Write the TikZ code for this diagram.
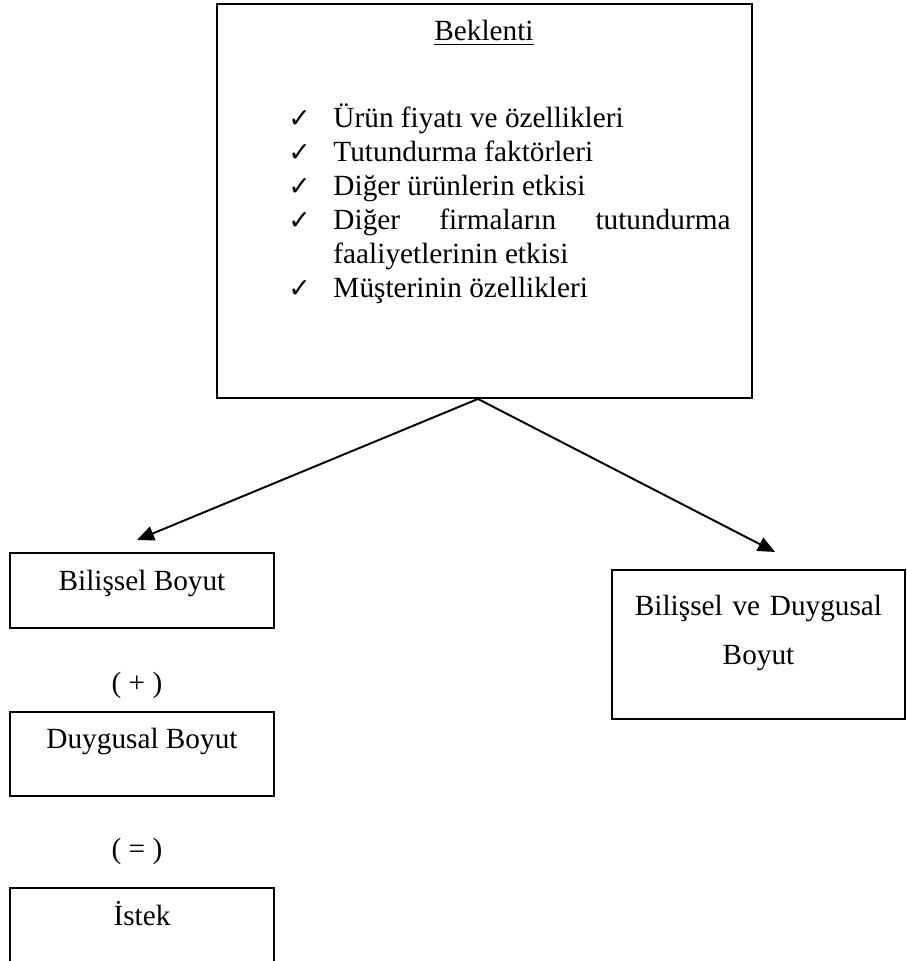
\documentclass[tikz,border=0pt]{standalone}
\usepackage{fontspec}
\setmainfont{Liberation Serif}
\newfontfamily\isaretfont{DejaVu Sans}
\usetikzlibrary{arrows.meta,positioning,calc}
\newlength\maddegir
\setlength\maddegir{18.45pt}
\newcommand{\onay}{{\isaretfont\fontsize{11}{12}\selectfont ✓}}
\newcommand{\madde}[1]{\noindent\hangindent=\maddegir\hangafter=1\makebox[\maddegir][l]{\onay}#1\par}
\hbadness=10000
\tikzset{
  kutu/.style={draw,line width=0.8pt,inner sep=0pt,anchor=north,align=center},
  ok/.style={-{Triangle[length=7pt,width=6pt]},line width=0.8pt},
  isaret/.style={anchor=base,inner sep=0pt},
}

\begin{document}
\begin{tikzpicture}[x=0.41pt,y=-0.41pt,font=\fontsize{12}{13.86}\selectfont]
  \useasboundingbox (0,0) rectangle (906,961);
  \clip (0,0) rectangle (906,961);
  \node[kutu,minimum width=219.35pt,minimum height=161.54pt] (beklenti) at (484.5,3) {};
  \node[isaret] (baslik) at (484,41) {\underline{Beklenti}};
  \node[anchor=base west,inner sep=0pt,text width=181.22pt,align=justify] (liste) at (288,128) {%
    \madde{Ürün fiyatı ve özellikleri}
    \madde{Tutundurma faktörleri}
    \madde{Diğer ürünlerin etkisi}
    \madde{Diğer firmaların tutundurma\linebreak faaliyetlerinin etkisi}
    \madde{Müşterinin özellikleri}};
  \node[kutu,minimum width=108.24pt,text height=15.58pt,text depth=15.17pt] (bilissel) at (142,552) {Bilişsel Boyut};
  \node[isaret] (arti) at (137,692) {( + )};
  \node[kutu,minimum width=108.24pt,text height=15.17pt,text depth=19.27pt] (duygusal) at (142,711) {Duygusal Boyut};
  \node[isaret] (esit) at (137,858) {( = )};
  \node[kutu,minimum width=108.24pt,text height=15.58pt,text depth=30pt] (istek) at (142,887) {İstek};
  \node[kutu,minimum width=120.13pt,text width=118pt,text height=18.86pt,text depth=42.23pt,
        font=\fontsize{12}{20.09}\selectfont] (bilduy) at (758.5,569) {Bilişsel ve Duygusal\\Boyut};
  \coordinate (tepe) at ([xshift=-2.67pt]beklenti.south);
  \draw[ok] (tepe) -- ([xshift=-2.05pt,yshift=4.92pt]bilissel.north);
  \draw[ok] (tepe) -- ([xshift=6.77pt,yshift=6.97pt]bilduy.north);
\end{tikzpicture}
\end{document}
